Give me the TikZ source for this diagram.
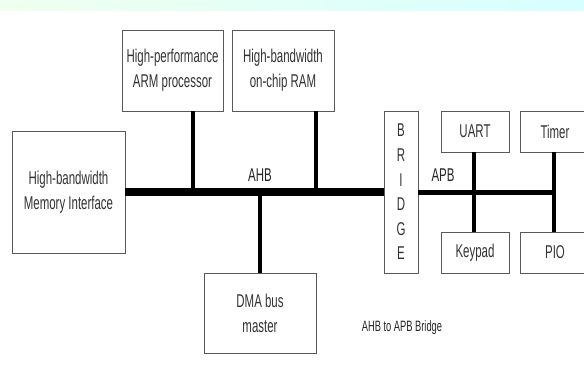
\documentclass[tikz,border=0pt]{standalone}
\usepackage{fontspec}
\setmainfont{Liberation Sans}[FakeStretch=0.62]
\begin{document}
\begin{tikzpicture}[x=1pt,y=-1pt,
  box/.style={draw=black!65,line width=0.9pt,fill=white,inner sep=0pt,align=center,
    text=black!80,font=\fontsize{18.5}{25}\selectfont},
  lbl/.style={text=black!85,font=\fontsize{18.5}{25}\selectfont,inner sep=0pt},
  ahb/.style={line width=8pt},
  apb/.style={line width=5pt},
  tapm/.style={line width=4pt},
  tapp/.style={line width=3.2pt}]
\clip (0,0) rectangle (584,372);
\fill[white] (0,0) rectangle (584,372);
\shade[left color=green!6,middle color=cyan!9,right color=cyan!16] (0,0) rectangle (584,10);
% boxes
\node[box,minimum width=101pt,minimum height=81pt] (arm) at (172.5,70.5) {High-performance\\ARM processor};
\node[box,minimum width=102pt,minimum height=81pt] (ram) at (283,70.5) {High-bandwidth\\on-chip RAM};
\node[box,minimum width=113pt,minimum height=122pt] (mem) at (68.5,192) {High-bandwidth\\Memory Interface};
\node[box,minimum width=112pt,minimum height=80pt] (dma) at (260,313) {DMA bus\\master};
\node[box,minimum width=34pt,minimum height=162pt,font=\fontsize{18.5}{24.6}\selectfont] (bridge) at (401,192) {B\\R\\I\\D\\G\\E};
\node[box,minimum width=68pt,minimum height=41pt] (uart) at (475,131.5) {UART};
\node[box,minimum width=70pt,minimum height=41pt] (timer) at (555,131.5) {Timer};
\node[box,minimum width=68pt,minimum height=41pt] (keypad) at (475,252.5) {Keypad};
\node[box,minimum width=70pt,minimum height=41pt] (pio) at (555,252.5) {PIO};
% junctions
\coordinate (jarm) at (193,192);
\coordinate (jram) at (316,192);
\coordinate (jdma) at (260,192);
\coordinate (juart) at (474,192);
\coordinate (jtim) at (554,192);
% buses
\draw[ahb] (mem.east) -- (bridge.west);
\draw[tapm] (arm.south -| jarm) -- (jarm);
\draw[tapm] (ram.south -| jram) -- (jram);
\draw[tapm] (jdma) -- (dma.north -| jdma);
\draw[apb] (bridge.east) -- ([xshift=1.5pt]jtim);
\draw[tapp] (uart.south -| juart) -- (keypad.north -| juart);
\draw[tapp] (timer.south -| jtim) -- (pio.north -| jtim);
% labels
\node[lbl] (lahb) at (260,175) {AHB};
\node[lbl] (lapb) at (443,175) {APB};
\node[lbl,font=\fontsize{15}{17}\selectfont] (lbr) at (402,328) {AHB to APB Bridge};
\end{tikzpicture}
\end{document}
